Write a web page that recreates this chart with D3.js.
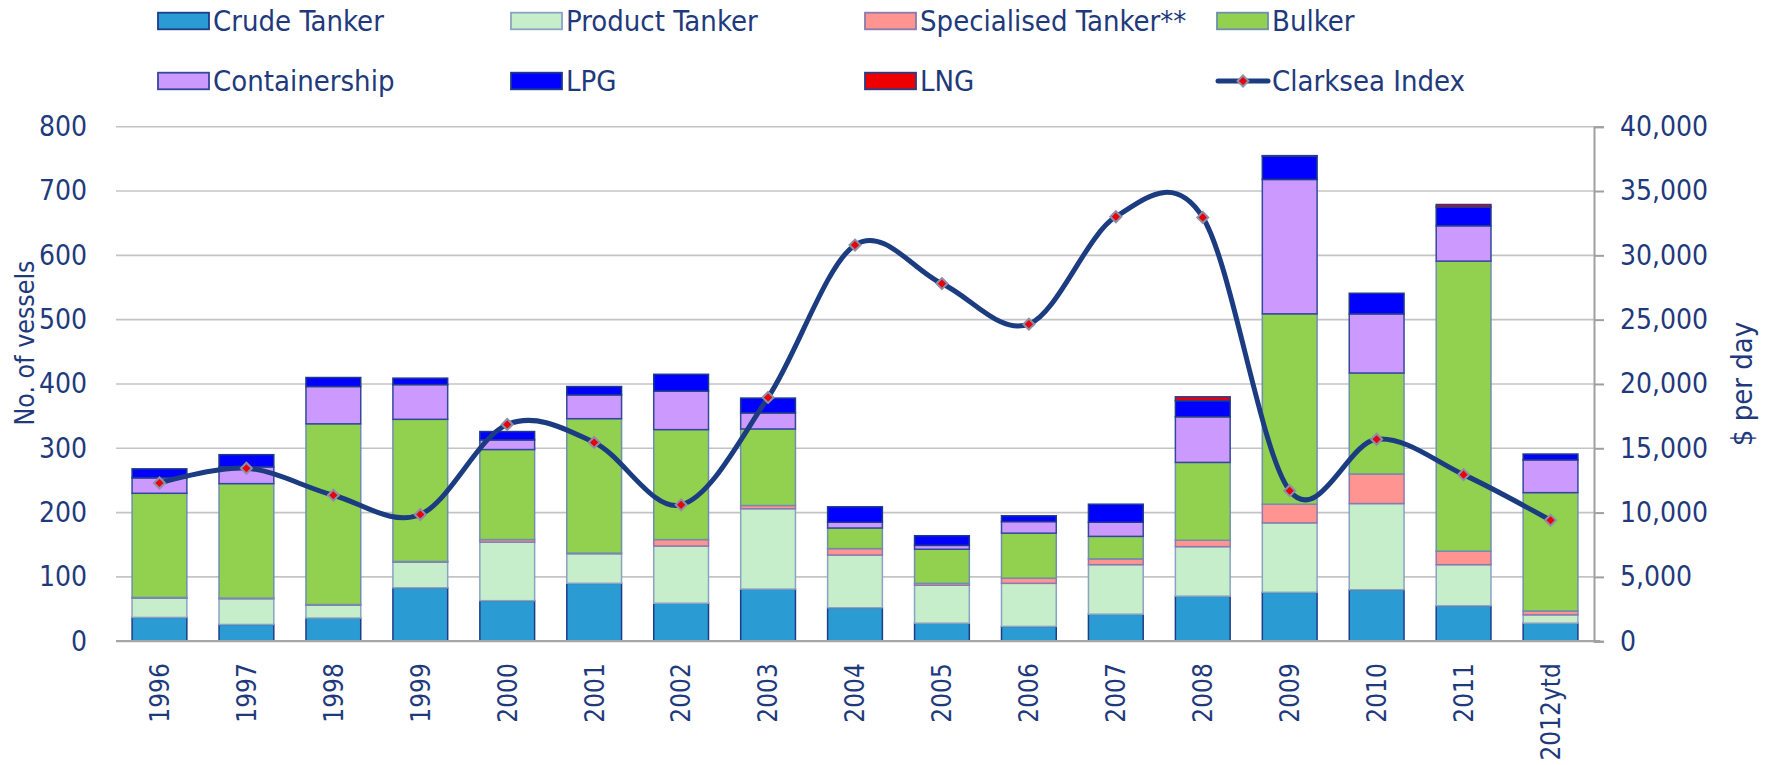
<!DOCTYPE html>
<html><head><meta charset="utf-8">
<script src="https://cdn.jsdelivr.net/npm/d3@7"></script>
<style>
html,body{margin:0;padding:0;background:#fff;}
svg{display:block;}
text{font-family:"DejaVu Sans Condensed","DejaVu Sans",sans-serif;fill:#1F3A7C;}
</style></head><body>
<svg id="chart" width="1767" height="765"></svg>
<script>
// ---- data ----
const years = ["1996","1997","1998","1999","2000","2001","2002","2003","2004","2005","2006","2007","2008","2009","2010","2011","2012ytd"];
const crudeTanker    = [37,26,36,83,63,90,59,81,52,28,23,42,70,76,80,55,28];
const productTanker  = [30,40,20,40,91,46,89,125,82,59,67,77,77,108,134,64,13];
const specialTanker  = [1,1,1,1,4,1,10,5,10,3,8,9,10,29,46,21,6];
const bulker         = [162,178,281,221,140,209,171,119,32,53,70,35,121,296,157,451,184];
const containership  = [24,26,58,54,15,37,60,25,9,6,18,22,71,209,92,55,51];
const lpg            = [14,19,14,10,13,13,26,23,24,15,9,28,25,36,32,29,9];
const lng            = [0,0,0,0,0,0,0,0,0,0,0,0,6,1,0,4,0];
const clarkseaIndex  = [12300,13450,11350,9850,16850,15450,10600,18950,30800,27800,24650,33000,32950,11700,15700,12950,9400];
const leftTicks  = [0,100,200,300,400,500,600,700,800];
const rightTicks = [0,5000,10000,15000,20000,25000,30000,35000,40000];
const seriesNames = ["Crude Tanker","Product Tanker","Specialised Tanker**","Bulker","Containership","LPG","LNG"];
const lineName = "Clarksea Index";
const leftTitle = "No. of vessels";
const rightTitle = "$ per day";

// ---- styles ----
const fills   = ["#2A9BD3","#C6EECA","#FF9491","#92D050","#CC99FF","#0000FF","#EE0000"];
const borders = ["#1F3C88","#8AA3C2","#8A7AAE","#6F8FAF","#34489A","#1F3C88","#2A3C88"];
const lineColor = "#1C3C82";
const FONT = '"DejaVu Sans Condensed","DejaVu Sans",sans-serif';

const m = {left:116, right:1594, top:126.7, bottom:641.2};
const svg = d3.select("#chart");

const seriesArrays = [crudeTanker, productTanker, specialTanker, bulker, containership, lpg, lng];
const table = years.map((y,i)=>{
  const o = {year:y};
  seriesNames.forEach((n,k)=>{ o[n] = seriesArrays[k][i]; });
  return o;
});
const stacked = d3.stack().keys(seriesNames)(table);

const x = d3.scaleBand().domain(years).range([m.left, m.right]).paddingInner(0.37).paddingOuter(0.185);
const yL = d3.scaleLinear().domain([0,800]).range([m.bottom, m.top]);
const yR = d3.scaleLinear().domain([0,40000]).range([m.bottom, m.top]);

// gridlines
svg.append("g").selectAll("line").data(leftTicks.filter(t=>t>0)).join("line")
  .attr("x1", m.left).attr("x2", m.right)
  .attr("y1", d=>yL(d)).attr("y2", d=>yL(d))
  .attr("stroke","#C4C4C4").attr("stroke-width",1.6);

// bars
const gBars = svg.append("g");
stacked.forEach((s,k)=>{
  gBars.append("g").selectAll("rect").data(s.filter(d=>d[1]-d[0]>0)).join("rect")
    .attr("x", d=>x(d.data.year))
    .attr("width", x.bandwidth())
    .attr("y", d=>yL(d[1]))
    .attr("height", d=>yL(d[0])-yL(d[1]))
    .attr("fill", fills[k])
    .attr("stroke", borders[k])
    .attr("stroke-width", 1.5);
});

// bottom axis line
svg.append("line").attr("x1", m.left).attr("x2", m.right+6)
  .attr("y1", yL(0)).attr("y2", yL(0))
  .attr("stroke","#A6A6A6").attr("stroke-width",2.2);

// right axis
const rAxis = d3.axisRight(yR).tickValues(rightTicks).tickSize(10).tickPadding(16).tickFormat(d3.format(","));
const gR = svg.append("g").attr("transform",`translate(${m.right},0)`).call(rAxis);
gR.select(".domain").attr("stroke","#A0A0A0").attr("stroke-width",2);
gR.selectAll(".tick line").attr("stroke","#A0A0A0").attr("stroke-width",2);
gR.selectAll(".tick text").attr("font-size",28).attr("fill","#1F3A7C").attr("font-family",FONT);

// left axis (labels only)
const lAxis = d3.axisLeft(yL).tickValues(leftTicks).tickSize(0).tickPadding(29);
const gL = svg.append("g").attr("transform",`translate(${m.left},0)`).call(lAxis);
gL.select(".domain").remove();
gL.selectAll(".tick text").attr("font-size",28).attr("fill","#1F3A7C").attr("font-family",FONT);

// x labels
svg.append("g").selectAll("text").data(years).join("text")
  .attr("transform", d=>`translate(${x(d)+x.bandwidth()/2},${m.bottom+22}) rotate(-90)`)
  .attr("text-anchor","end").attr("dy","0.36em")
  .attr("font-size",26).text(d=>d);

// line
const line = d3.line()
  .x((d,i)=>x(years[i])+x.bandwidth()/2)
  .y(d=>yR(d))
  .curve(d3.curveCardinal.tension(0));
svg.append("path").datum(clarkseaIndex).attr("d", line)
  .attr("fill","none").attr("stroke",lineColor).attr("stroke-width",5).attr("stroke-linejoin","round");

const diamond = d3.symbol().type(d3.symbolSquare).size(60);
svg.append("g").selectAll("path").data(clarkseaIndex).join("path")
  .attr("d", diamond)
  .attr("transform",(d,i)=>`translate(${x(years[i])+x.bandwidth()/2},${yR(d)}) rotate(45)`)
  .attr("fill","#E8000B").attr("stroke","#8E8FA6").attr("stroke-width",2);

// axis titles
svg.append("text").attr("transform","translate(24,343) rotate(-90)")
  .attr("text-anchor","middle").attr("dy","0.36em").attr("font-size",26.5).text(leftTitle);
svg.append("text").attr("transform","translate(1742,384) rotate(-90)")
  .attr("text-anchor","middle").attr("dy","0.36em").attr("font-size",29).text(rightTitle);

// legend
const colX = [158,511,865,1217];
const rowY = [21,81];
const legendItems = seriesNames.map((n,k)=>({name:n, k:k})).concat([{name:lineName, k:-1}]);
const gLeg = svg.append("g");
legendItems.forEach((it,idx)=>{
  const cx = colX[idx%4], cy = rowY[Math.floor(idx/4)];
  const g = gLeg.append("g").attr("transform",`translate(${cx},${cy})`);
  if(it.k>=0){
    g.append("rect").attr("x",0).attr("y",-8.3).attr("width",51).attr("height",16.6)
      .attr("fill",fills[it.k]).attr("stroke",borders[it.k]).attr("stroke-width",1.8);
  } else {
    g.append("line").attr("x1",1).attr("x2",51).attr("y1",0).attr("y2",0)
      .attr("stroke",lineColor).attr("stroke-width",5).attr("stroke-linecap","round");
    g.append("path").attr("d",diamond).attr("transform","translate(26,0) rotate(45)")
      .attr("fill","#E8000B").attr("stroke","#8E8FA6").attr("stroke-width",2);
  }
  g.append("text").attr("x",55).attr("y",0).attr("dy","0.36em").attr("font-size",29).text(it.name);
});
</script>
</body></html>
